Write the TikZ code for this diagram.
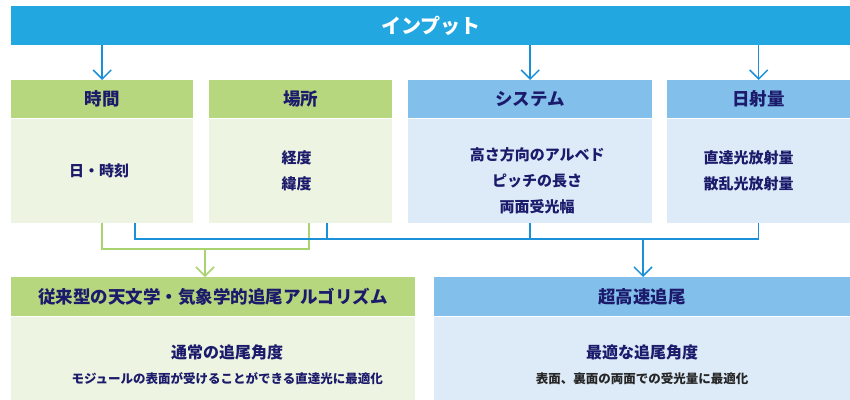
\documentclass[tikz,border=0pt]{standalone}
\usepackage{fontspec}
\setmainfont{Noto Sans CJK JP}
\usetikzlibrary{arrows.meta,positioning}
\definecolor{barblue}{HTML}{22A7E0}
\definecolor{hdgreen}{HTML}{B7D77E}
\definecolor{bdgreen}{HTML}{EDF4E1}
\definecolor{hdblue}{HTML}{82C0EB}
\definecolor{bdblue}{HTML}{DDEBF8}
\definecolor{navy}{HTML}{1B1A6B}
\definecolor{darktx}{HTML}{262626}
\definecolor{lnblue}{HTML}{1A90D9}
\definecolor{lngreen}{HTML}{A9D36E}

\begin{document}
\begin{tikzpicture}[x=1pt,y=-1pt,node distance=0pt,
  hd/.style={inner sep=0pt,minimum height=38pt,text=navy,font=\fontsize{17.5}{20}\selectfont\bfseries},
  bd/.style={inner sep=0pt,minimum height=104pt},
  txt/.style={align=center,text=navy,font=\fontsize{15}{26}\selectfont\bfseries},
  blink/.style={draw=lnblue,line width=1.5pt},
  glink/.style={draw=lngreen,line width=1.5pt},
  tip/.style={-{Straight Barb[length=9pt,width=18pt]}}]
\useasboundingbox (0,0) rectangle (850,399);
%
\node[fill=barblue,anchor=north west,inner sep=0pt,minimum width=839pt,minimum height=39pt,
  text=white,font=\fontsize{20}{24}\selectfont\bfseries] (inp) at (11,6) {インプット};
%
\node[hd,fill=hdgreen,minimum width=182pt,anchor=north west] (jikan) at (11,80) {時間};
\node[bd,fill=bdgreen,minimum width=182pt,below=of jikan] (jikanbd) {};
\node[hd,fill=hdgreen,minimum width=183pt,anchor=north west] (basho) at (209,80) {場所};
\node[bd,fill=bdgreen,minimum width=183pt,below=of basho] (bashobd) {};
\node[hd,fill=hdblue,minimum width=244pt,anchor=north west] (sys) at (408,80) {システム};
\node[bd,fill=bdblue,minimum width=244pt,below=of sys] (sysbd) {};
\node[hd,fill=hdblue,minimum width=183pt,anchor=north west] (nissha) at (667,80) {日射量};
\node[bd,fill=bdblue,minimum width=183pt,below=of nissha] (nisshabd) {};
\node[txt] (jikantx) at ([xshift=-3pt]jikanbd.center) {日・時刻};
\node[txt] (bashotx) at ([xshift=-4pt]bashobd.center) {経度\\緯度};
\node[txt] (systx) at ([xshift=7pt,yshift=-10pt]sysbd.center) {高さ方向のアルベド\\ピッチの長さ\\両面受光幅};
\node[txt] (nisshatx) at ([xshift=-10pt]nisshabd.center) {直達光放射量\\散乱光放射量};
%
\node[hd,fill=hdgreen,minimum width=404pt,minimum height=39pt,anchor=north west] (algo) at (11,277) {従来型の天文学・気象学的追尾アルゴリズム};
\node[bd,fill=bdgreen,minimum width=404pt,minimum height=83pt,below=of algo] (algobd) {};
\node[hd,fill=hdblue,minimum width=416pt,minimum height=39pt,anchor=north west] (hyper) at (434,277) {超高速追尾};
\node[bd,fill=bdblue,minimum width=416pt,minimum height=83pt,below=of hyper] (hyperbd) {};
\node[txt,font=\fontsize{16}{25}\selectfont\bfseries] (algotx) at ([xshift=14pt,yshift=-7pt]algobd.center)
  {通常の追尾角度\\{\fontsize{12.5}{25}\selectfont モジュールの表面が受けることができる直達光に最適化}};
\node[txt,font=\fontsize{16}{25}\selectfont\bfseries] (hypertx) at ([yshift=-7pt]hyperbd.center)
  {最適な追尾角度\\{\fontsize{12.5}{25}\selectfont\color{darktx}表面、裏面の両面での受光量に最適化}};
%
\draw[blink,tip] (inp.south -| jikan) -- (jikan.north);
\draw[blink,tip] (inp.south -| sys) -- (sys.north);
\draw[blink,tip] (inp.south -| nissha) -- (nissha.north);
%
\coordinate (gjoin) at (205,249);
\coordinate (bjoin) at (643,239);
\coordinate (jikanb) at ([xshift=33pt]jikanbd.south);
\coordinate (bashog) at ([xshift=8.5pt]bashobd.south);
\coordinate (bashob) at ([xshift=26.5pt]bashobd.south);
\draw[glink] (jikanbd.south) |- (gjoin) -| (bashog);
\draw[glink,tip] (gjoin) -- (gjoin |- algo.north);
\draw[blink] (jikanb) |- (bjoin) -| (nisshabd.south);
\draw[blink] (bashob) -- (bashob |- bjoin);
\draw[blink] (sysbd.south) -- (sysbd.south |- bjoin);
\draw[blink,tip] (bjoin) -- (bjoin |- hyper.north);
\end{tikzpicture}
\end{document}
